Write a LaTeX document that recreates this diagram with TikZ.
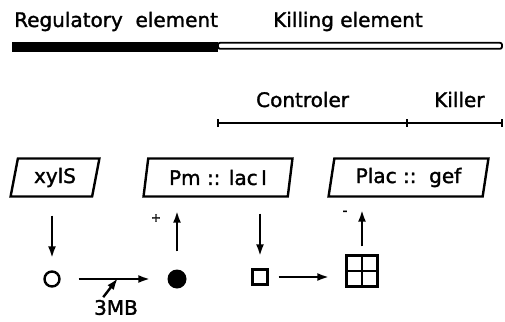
\documentclass[tikz,border=0pt]{standalone}
\usepackage{fontspec}
\setmainfont{DejaVu Sans}[FakeBold=1.6]
\usepackage{tikz}
\usetikzlibrary{arrows.meta}
\usetikzlibrary{shapes.geometric}

\begin{document}
\begin{tikzpicture}[x=1pt,y=-1pt,line width=2.4pt,font=\fontsize{20}{24}\selectfont]
	\useasboundingbox (0,0) rectangle (505,321);
	\begin{scope}[every node/.style={anchor=base west,inner sep=0}]
		\node (R) at (13,27) {Regulatory\ \ element};
		\node (K) at (272,27) {Killing\ element};
		\node (C) at (255,107) {Controler};
		\node (L) at (433,107) {Killer};
	\end{scope}
	
	\fill (12,42) rectangle (218,52);
	\draw [line width=1.8pt,rounded corners=2pt] (218,42.8) rectangle (502,48.8);
	
	\coordinate (c1) at (217,123);
	\coordinate (c2) at (408,123);
	\coordinate (c3) at (503,123);
	\draw [line width=2pt,{Bar[width=8pt]}-{Bar[width=8pt]}] (c1) -- (c2);
	\draw [line width=2pt,-{Bar[width=8pt]}] (c2) -- (c3);
	
	\begin{scope}[every node/.style={trapezium,draw,trapezium left angle=78,
		trapezium right angle=102,trapezium stretches=true,minimum height=38pt,inner sep=0}]
		\node [minimum width=89pt] (X) at (55,177.5) {xylS};
		\node [minimum width=149pt] (P) at (218,177.5) {Pm :: lac\,I};
		\node [minimum width=160pt] (G) at (408.5,177.5) {Plac ::\ \ gef};
	\end{scope}
	
	\begin{scope}[every node/.style={inner sep=0}]
		\node [circle,draw,minimum size=15pt] (o) at (52,279) {};
		\node [circle,fill,minimum size=19pt] (f) at (177,279) {};
		\node [rectangle,draw,minimum size=15pt] (s) at (260,277) {};
		\node [rectangle,draw,minimum size=31pt] (g) at (362,271) {};
		\node (mb) at (116,307.5) {3MB};
		\node (plus) at (156,218) {\fontsize{12}{12}\selectfont +};
		\node (minus) at (345,213) {\fontsize{14}{14}\selectfont -};
	\end{scope}
	\draw (g.north) -- (g.south) (g.west) -- (g.east);
	\coordinate (hit) at (118,278);
	
	\begin{scope}[>={Latex[length=12pt,width=8pt]}]
		\path [->] (X.south -| o) edge [shorten <=18pt, shorten >=12pt] (o.north);
		\path [->] (o) edge [shorten <=18pt, shorten >=16pt] (f);
		\path [->] ([xshift=-14pt]mb.north) edge [shorten <=2pt] (hit);
		\path [->] (f) edge [shorten <=17pt, shorten >=13pt] (f |- P.south);
		\path [->] (P.south -| s) edge [shorten <=16pt, shorten >=12pt] (s);
		\path [->] (s) edge [shorten <=10pt, shorten >=16pt] (s -| g.west);
		\path [->] (g) edge [shorten <=8pt, shorten >=12pt] (g |- G.south);
	\end{scope}
\end{tikzpicture}
\end{document}
